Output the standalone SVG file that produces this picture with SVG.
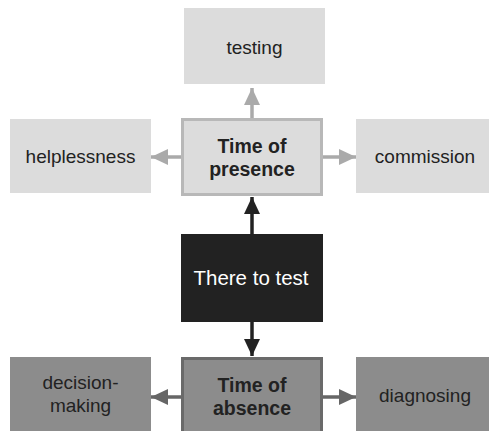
<svg xmlns="http://www.w3.org/2000/svg" width="489" height="431" viewBox="0 0 489 431">
  <style>
    text { font-family: "Liberation Sans", Arial, sans-serif; font-size: 19px; text-anchor: middle; fill: #222; }
    .b { font-weight: bold; font-size: 19.5px; }
    .w { fill: #fff; font-size: 20.5px; }
    .light { fill: #dcdcdc; }
    .mid { fill: #8c8c8c; }
    .dark { fill: #222; }
    .light-edge { stroke: #b8b8b8; stroke-width: 3; }
    .mid-edge { stroke: #6a6a6a; stroke-width: 3; }
    .c-light { stroke: #aaa; stroke-width: 3.5; fill: none; }
    .c-dark { stroke: #222; stroke-width: 3.5; fill: none; }
    .c-mid { stroke: #666; stroke-width: 3.5; fill: none; }
  </style>
  <defs>
    <marker id="ah-light" markerUnits="userSpaceOnUse" markerWidth="18" markerHeight="18" viewBox="0 0 18 18" refX="17" refY="9" orient="auto">
      <path d="M0,1 L17,9 L0,17 Z" fill="#aaa"/>
    </marker>
    <marker id="ah-dark" markerUnits="userSpaceOnUse" markerWidth="18" markerHeight="18" viewBox="0 0 18 18" refX="17" refY="9" orient="auto">
      <path d="M0,1 L17,9 L0,17 Z" fill="#222"/>
    </marker>
    <marker id="ah-mid" markerUnits="userSpaceOnUse" markerWidth="18" markerHeight="18" viewBox="0 0 18 18" refX="17" refY="9" orient="auto">
      <path d="M0,1 L17,9 L0,17 Z" fill="#666"/>
    </marker>
  </defs>

  <g id="connectors">
    <line class="c-light" x1="252" y1="118" x2="252" y2="88" marker-end="url(#ah-light)"/>
    <line class="c-light" x1="181" y1="157" x2="151" y2="157" marker-end="url(#ah-light)"/>
    <line class="c-light" x1="323" y1="157" x2="356" y2="157" marker-end="url(#ah-light)"/>
    <line class="c-dark" x1="252" y1="234" x2="252" y2="197" marker-end="url(#ah-dark)"/>
    <line class="c-dark" x1="252" y1="322" x2="252" y2="356" marker-end="url(#ah-dark)"/>
    <line class="c-mid" x1="181" y1="397" x2="151" y2="397" marker-end="url(#ah-mid)"/>
    <line class="c-mid" x1="323" y1="397" x2="356" y2="397" marker-end="url(#ah-mid)"/>
  </g>

  <g id="testing">
    <rect class="light" x="184" y="8" width="141" height="76"/>
    <text x="254.5" y="54">testing</text>
  </g>
  <g id="helplessness">
    <rect class="light" x="10" y="119" width="141" height="74"/>
    <text x="80.5" y="163">helplessness</text>
  </g>
  <g id="commission">
    <rect class="light" x="356" y="119" width="141" height="74"/>
    <text x="425" y="163">commission</text>
  </g>
  <g id="time-of-presence">
    <rect class="light light-edge" x="182.5" y="119.5" width="139" height="75"/>
    <text class="b" x="252" y="153">Time of</text>
    <text class="b" x="252" y="176">presence</text>
  </g>
  <g id="there-to-test">
    <rect class="dark" x="181" y="234" width="142" height="88"/>
    <text class="w" x="251" y="285">There to test</text>
  </g>
  <g id="decision-making">
    <rect class="mid" x="10" y="357" width="141" height="76"/>
    <text x="80.5" y="389">decision-</text>
    <text x="80.5" y="412">making</text>
  </g>
  <g id="time-of-absence">
    <rect class="mid mid-edge" x="182.5" y="358.5" width="139" height="75"/>
    <text class="b" x="252" y="392">Time of</text>
    <text class="b" x="252" y="415">absence</text>
  </g>
  <g id="diagnosing">
    <rect class="mid" x="356" y="357" width="141" height="76"/>
    <text x="425" y="402">diagnosing</text>
  </g>
</svg>
